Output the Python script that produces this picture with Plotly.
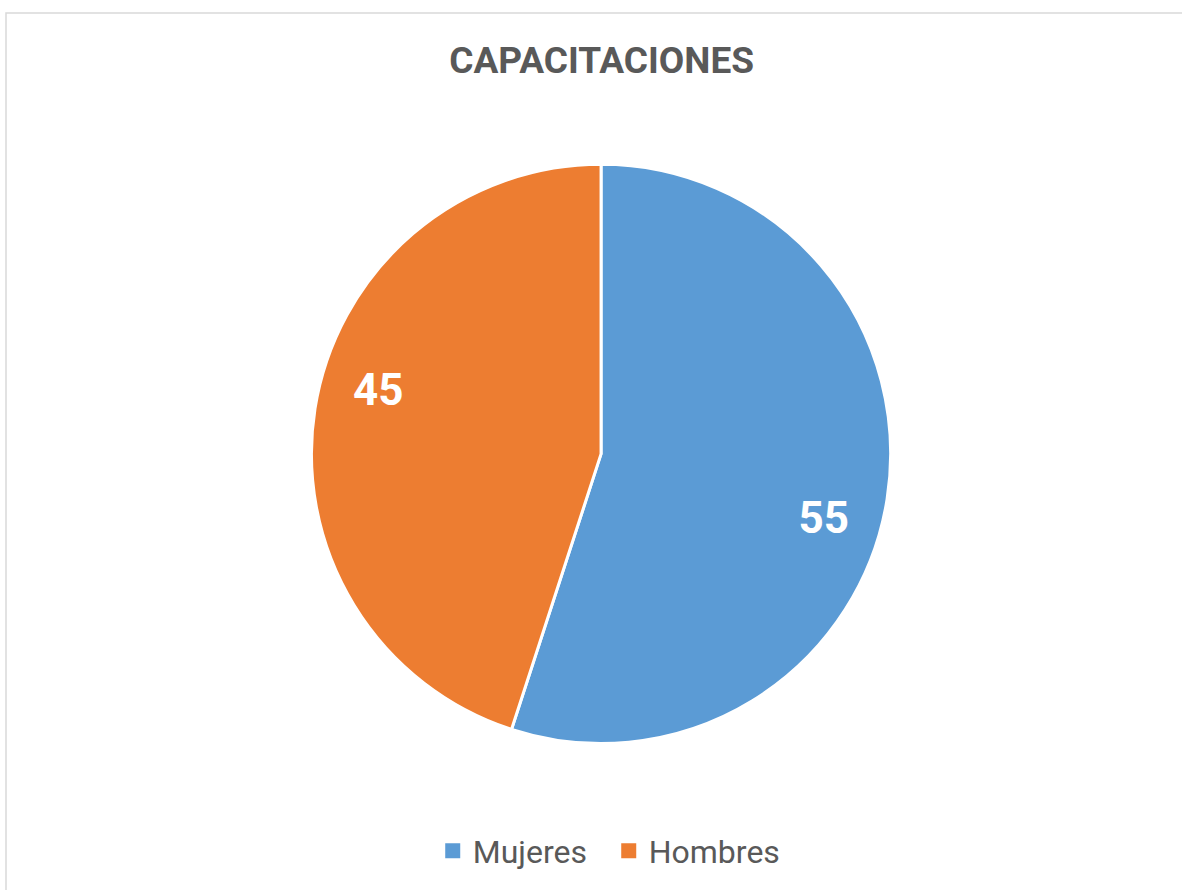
import plotly.graph_objects as go

# datos
etiquetas = ["Mujeres", "Hombres"]
valores = [55, 45]
colores = ["#5B9BD5", "#ED7D31"]
titulo = "CAPACITACIONES"

W, H = 1182, 890
dom_x = [0.2635, 0.7535]
dom_y = [0.1645, 0.8155]

# pastel principal (solo los sectores)
sectores = go.Pie(
    labels=etiquetas, values=valores, sort=False, direction="clockwise",
    marker=dict(colors=colores, line=dict(color="white", width=3)),
    textinfo="none", hoverinfo="label+value", showlegend=False,
    domain=dict(x=dom_x, y=dom_y),
)

# segundo pastel transparente con hueco: solo para llevar las etiquetas hacia el borde
etiq = go.Pie(
    labels=etiquetas, values=valores, sort=False, direction="clockwise",
    rotation=7, hole=0.6, showlegend=False, hoverinfo="skip",
    marker=dict(colors=["rgba(0,0,0,0)"] * 2, line=dict(width=0)),
    textinfo="value", textposition="inside", insidetextorientation="horizontal",
    textfont=dict(family="Roboto", size=44, color="white", weight="bold"),
    domain=dict(x=dom_x, y=dom_y),
)

fig = go.Figure(data=[sectores, etiq])

# entradas de leyenda con cuadrados grandes
for nombre, color in zip(etiquetas, colores):
    fig.add_trace(go.Scatter(x=[None], y=[None], mode="markers", name=nombre,
                             marker=dict(symbol="square", size=15, color=color)))

fig.update_layout(
    width=W, height=H,
    margin=dict(l=0, r=0, t=0, b=0),
    paper_bgcolor="white", plot_bgcolor="white",
    xaxis=dict(visible=False), yaxis=dict(visible=False),
    title=dict(text=titulo, x=0.509, y=0.933, xanchor="center", yanchor="middle",
               font=dict(family="Roboto", size=37, color="#595959", weight="bold")),
    legend=dict(orientation="h", x=0.515, y=0.044, xanchor="center", yanchor="middle",
                font=dict(family="Roboto", size=32, color="#595959"),
                itemsizing="trace", entrywidth=131),
    shapes=[dict(type="rect", xref="paper", yref="paper",
                 x0=6 / W, x1=1.02, y0=-0.02, y1=1 - 13 / H,
                 line=dict(color="#D9D9D9", width=1.5))],
)

fig.write_html("out.html", config={"displayModeBar": False},
               post_script="document.body.style.margin='0';")
